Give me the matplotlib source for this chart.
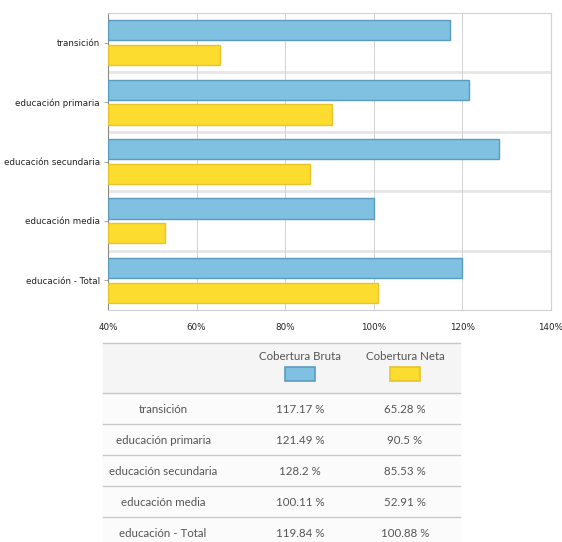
import numpy as np
import matplotlib
matplotlib.use("Agg")
import matplotlib.pyplot as plt

# Datos
categorias = ["transición", "educación primaria", "educación secundaria",
              "educación media", "educación - Total"]
cobertura_bruta = [117.17, 121.49, 128.2, 100.11, 119.84]
cobertura_neta = [65.28, 90.5, 85.53, 52.91, 100.88]
series = ["Cobertura Bruta", "Cobertura Neta"]
x_ticks = [40, 60, 80, 100, 120, 140]

azul, azul_borde = "#80c0e0", "#5a9cc0"
amarillo, amarillo_borde = "#fcdc2e", "#e8c42a"

fig = plt.figure(figsize=(5.62, 5.42), dpi=100)

# FIGURE 1 : barras horizontales
ax = fig.add_axes([108 / 562, 1 - 310 / 542, 443 / 562, 297 / 542])
n = len(categorias)
y = np.arange(n)
h = 0.34
ax.barh(y - 0.21, np.array(cobertura_bruta) - 40, left=40, height=h,
        color=azul, edgecolor=azul_borde, linewidth=1.0, zorder=3)
ax.barh(y + 0.21, np.array(cobertura_neta) - 40, left=40, height=h,
        color=amarillo, edgecolor=amarillo_borde, linewidth=1.0, zorder=3)

ax.set_xlim(40, 140)
ax.set_ylim(n - 0.5, -0.5)
ax.set_xticks(x_ticks)
ax.set_xticklabels([f"{v}%" for v in x_ticks], fontsize=6.3, color="#222")
ax.set_yticks(y)
ax.set_yticklabels(categorias, fontsize=6.3, color="#222")
ax.tick_params(axis="x", length=0, pad=9)
ax.tick_params(axis="y", length=3, color="#999", width=0.6, pad=3)
for yy in np.arange(0.5, n - 0.5, 1):
    ax.axhline(yy, color="#e6e6e6", linewidth=2, zorder=1)
ax.grid(axis="x", color="#d2d2d2", linewidth=0.7, zorder=0)
for s in ["top", "right", "bottom"]:
    ax.spines[s].set_color("#d0d0d0")
    ax.spines[s].set_linewidth(0.8)
ax.spines["left"].set_color("#888")
ax.spines["left"].set_linewidth(0.8)

# FIGURE 2 : tabla
at = fig.add_axes([0, 0, 1, 1])
at.set_xlim(0, 562)
at.set_ylim(542, 0)
at.axis("off")

tf = dict(family=["Lato", "DejaVu Sans"], color="#555", ha="center", va="center")
fs = 8.3
x0, x1 = 103, 460
col_x = [163, 300, 405]
at.fill_between([x0, x1], 343, 542, color="#fbfbfb", zorder=0)
at.fill_between([x0, x1], 343, 393, color="#f5f5f5", zorder=0)
at.plot([x0, x1], [343, 343], color="#c8c8c8", linewidth=1)
for i, (name, col, edge) in enumerate([(series[0], azul, azul_borde),
                                         (series[1], amarillo, amarillo_borde)]):
    at.text(col_x[i + 1], 357, name, fontsize=fs, **tf)
    at.add_patch(plt.Rectangle((col_x[i + 1] - 15, 367), 30, 14,
                               facecolor=col, edgecolor=edge, linewidth=1.2))

row_h = 31
for r in range(n):
    top = 393 + r * row_h
    at.plot([x0, x1], [top, top], color="#c8c8c8", linewidth=1)
    yc = top + row_h / 2 + 1
    at.text(col_x[0], yc, categorias[r], fontsize=fs, **tf)
    at.text(col_x[1], yc, f"{cobertura_bruta[r]:g} %", fontsize=fs, **tf)
    at.text(col_x[2], yc, f"{cobertura_neta[r]:g} %", fontsize=fs, **tf)

fig.savefig("out.png", dpi=100, facecolor="white")
